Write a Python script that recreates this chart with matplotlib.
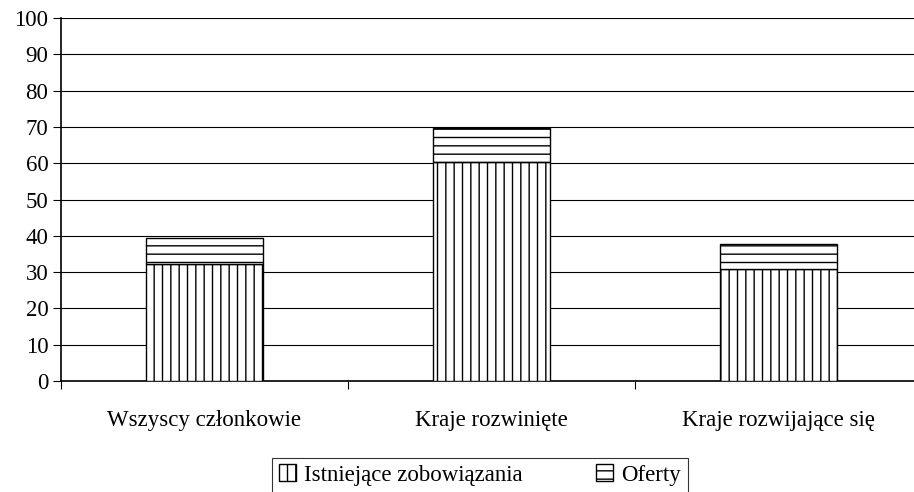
import matplotlib
matplotlib.use("Agg")
import matplotlib.pyplot as plt
import numpy as np

plt.rcParams['font.family'] = ['Liberation Serif', 'DejaVu Serif']
plt.rcParams['hatch.linewidth'] = 1.0

categories = ["Wszyscy członkowie", "Kraje rozwinięte", "Kraje rozwijające się"]
existing = [32.2, 60.3, 30.9]
offers = [7.1, 9.5, 6.9]
series_names = ["Istniejące zobowiązania", "Oferty"]

fig = plt.figure(figsize=(9.14, 4.92), dpi=100)
# axes runs slightly past the right edge, like the original export
ax = fig.add_axes([0.0667, 0.2256, 0.942, 0.7378])

x = np.arange(len(categories))
ax.bar(x, existing, width=0.405, color='white', edgecolor='black',
       hatch='||', linewidth=1.0, label=series_names[0], zorder=3)
ax.bar(x, offers, width=0.405, bottom=existing, color='white', edgecolor='black',
       hatch='--', linewidth=1.0, label=series_names[1], zorder=3)

ax.set_xlim(-0.5, 2.5)
ax.set_ylim(0, 100)
ax.set_yticks(range(0, 101, 10))
ax.yaxis.grid(True, color='black', linewidth=0.8)
ax.set_axisbelow(True)
ax.tick_params(axis='y', labelsize=16.5, length=6, width=0.8, direction='out', pad=3)

ax.set_xticks(x)
ax.set_xticklabels(categories, fontsize=16.5)
ax.tick_params(axis='x', which='major', length=0, pad=21)
ax.set_xticks([-0.5, 0.5, 1.5, 2.5], minor=True)
ax.tick_params(axis='x', which='minor', length=6, width=0.8)

for s in ['top', 'right']:
    ax.spines[s].set_visible(False)
ax.spines['left'].set_linewidth(1.2)
ax.spines['bottom'].set_linewidth(1.2)

leg = fig.legend(loc='upper center', bbox_to_anchor=(0.525, 0.07), ncol=2, fontsize=16.5,
                 frameon=True, fancybox=False, edgecolor='black',
                 handlelength=0.75, handleheight=0.75, columnspacing=3.2,
                 handletextpad=0.35, borderpad=0.3, borderaxespad=0)
leg.get_frame().set_linewidth(0.8)

fig.savefig("out.png", dpi=100)
